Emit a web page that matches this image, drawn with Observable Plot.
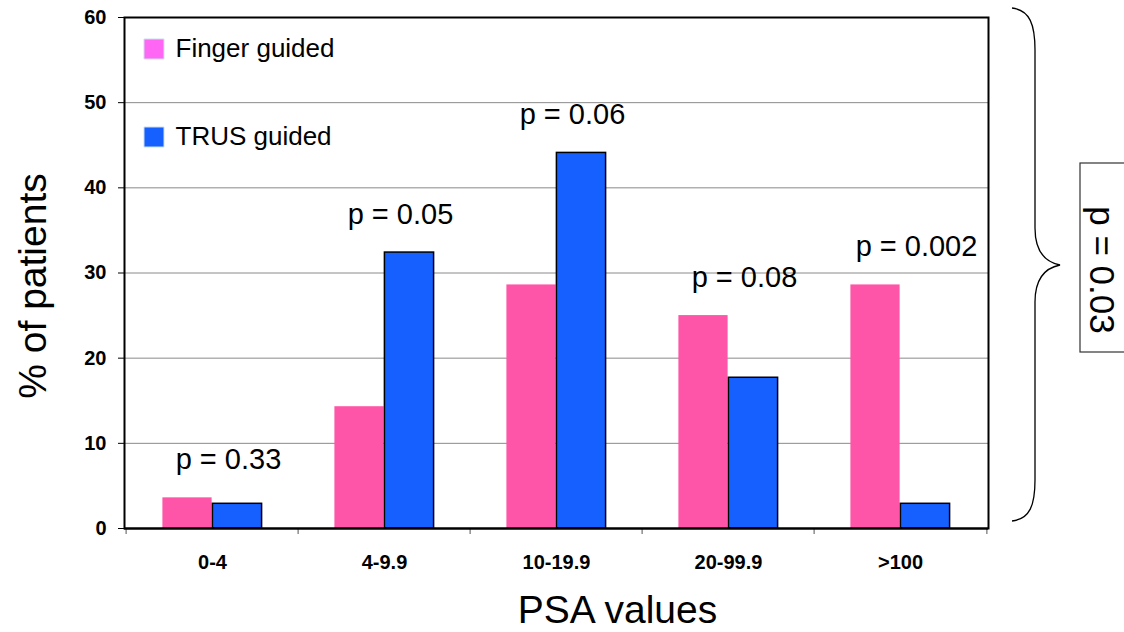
<!DOCTYPE html>
<html><head><meta charset="utf-8">
<script src="https://cdn.jsdelivr.net/npm/d3@7"></script>
<script src="https://cdn.jsdelivr.net/npm/@observablehq/plot@0.6"></script>
<style>body{margin:0;background:#fff} svg{font-family:"Liberation Sans",Arial,sans-serif}</style>
</head><body><div id="chart"></div>
<script>
const categories = ["0-4", "4-9.9", "10-19.9", "20-99.9", ">100"];
const fingerValues = [3.6, 14.3, 28.6, 25.0, 28.6];
const trusValues = [2.9, 32.4, 44.1, 17.7, 2.9];
const pLabels = ["p = 0.33", "p = 0.05", "p = 0.06", "p = 0.08", "p = 0.002"];
const seriesNames = ["Finger guided", "TRUS guided"];
const yTicks = [0, 10, 20, 30, 40, 50, 60];
const gridTicks = [10, 20, 30, 40, 50];
const overallP = "p = 0.03";
const xTitle = "PSA values";
const yTitle = "% of patients";

const W = 1124, H = 632, mL = 124, mR = 136, mT = 17, mB = 104;
const band = (W - mL - mR) / categories.length;
const barW = 50;
const pink = "#FF55A8", blue = "#1560FF", legendPink = "#FF66F4";

const rows = categories.map((c, i) => ({c, finger: fingerValues[i], trus: trusValues[i], p: pLabels[i], top: Math.max(fingerValues[i], trusValues[i])}));

const plot = Plot.plot({
  width: W, height: H,
  marginLeft: mL, marginRight: mR, marginTop: mT, marginBottom: mB,
  style: {fontFamily: "Liberation Sans, Arial, sans-serif", fontSize: "20px", fontWeight: "bold", color: "#000", background: "#fff"},
  x: {type: "band", domain: categories, padding: 0, axis: null},
  y: {domain: [0, 60], axis: null},
  marks: [
    Plot.ruleY(gridTicks, {stroke: "#8a8a8a", strokeWidth: 1}),
    Plot.barY(rows, {x: "c", y: "finger", fill: pink, insetLeft: band / 2 - barW, insetRight: band / 2}),
    Plot.barY(rows, {x: "c", y: "trus", fill: blue, stroke: "#000", strokeWidth: 1.5, insetLeft: band / 2, insetRight: band / 2 - barW}),
    Plot.axisY({ticks: yTicks, tickSize: 6, tickPadding: 12, fontSize: 20, fontWeight: "bold", label: null, stroke: "#000"}),
    Plot.axisX({tickSize: 0, tickPadding: 26, fontSize: 20, fontWeight: "bold", label: null}),
    Plot.axisX({tickSize: 6, tickFormat: () => "", dx: -band / 2, label: null, stroke: "#555"}),
    Plot.axisX({ticks: [categories[categories.length - 1]], tickSize: 6, tickFormat: () => "", dx: band / 2, label: null, stroke: "#555"}),
    Plot.frame({stroke: "#000", strokeWidth: 2}),
    Plot.ruleY([0], {stroke: "#000", strokeWidth: 2}),
    Plot.text(rows, {x: "c", y: "top", text: "p", dy: -38, dx: 16, fontSize: 29, fontWeight: "normal", fill: "#000"}),
    Plot.dot([seriesNames[0]], {frameAnchor: "top-left", dx: 29.5, dy: 31.5, symbol: "square", r: 11.3, fill: legendPink, stroke: "#cfe0f0", strokeWidth: 1}),
    Plot.text([seriesNames[0]], {frameAnchor: "top-left", lineAnchor: "middle", dx: 51, dy: 31, text: d => d, textAnchor: "start", fontSize: 26, fontWeight: "normal", fill: "#000"}),
    Plot.dot([seriesNames[1]], {frameAnchor: "top-left", dx: 29.5, dy: 119.5, symbol: "square", r: 11.3, fill: blue, stroke: "#cfe0f0", strokeWidth: 1}),
    Plot.text([seriesNames[1]], {frameAnchor: "top-left", lineAnchor: "middle", dx: 51, dy: 119, text: d => d, textAnchor: "start", fontSize: 26, fontWeight: "normal", fill: "#000"}),
    Plot.text([xTitle], {frameAnchor: "bottom", lineAnchor: "middle", textAnchor: "middle", dx: 61, dy: 82, text: d => d, fontSize: 39, fontWeight: "normal", fill: "#000"}),
    Plot.text([yTitle], {frameAnchor: "left", textAnchor: "middle", dx: -91, dy: 13, text: d => d, rotate: -90, fontSize: 39, fontWeight: "normal", fill: "#000"}),
    Plot.text([overallP], {frameAnchor: "right", textAnchor: "middle", dx: 113, dy: -3, text: d => d, rotate: 90, fontSize: 35, fontWeight: "normal", fill: "#000"})
  ]
});

const svg = d3.select(plot);
svg.selectAll('g[aria-label$="tick label"]').attr("font-size", 20).style("font-size", "20px");
svg.selectAll('g[aria-label$="tick label"] text').style("font-size", "20px").style("font-weight", "bold");
svg.append("path")
  .attr("d", "M1012,8 C1030,10 1035,25 1035,50 L1035,228 C1035,252 1045,262 1060,265 C1045,268 1035,278 1035,302 L1035,480 C1035,505 1030,519 1012,521")
  .attr("fill", "none").attr("stroke", "#000").attr("stroke-width", 1.3);
svg.append("rect").attr("x", 1080).attr("y", 163).attr("width", 70).attr("height", 189)
  .attr("fill", "none").attr("stroke", "#333").attr("stroke-width", 1.2);

document.getElementById("chart").append(plot);
</script>
</body></html>
